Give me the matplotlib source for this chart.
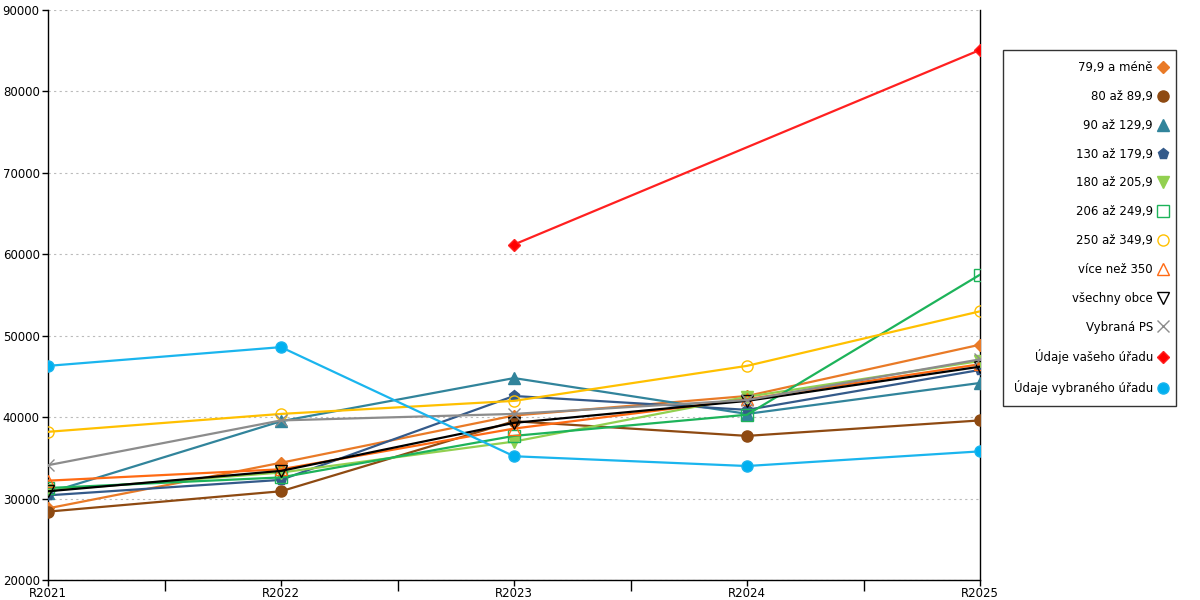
import matplotlib
matplotlib.use("Agg")
import matplotlib.pyplot as plt
import numpy as np
from matplotlib.lines import Line2D

# data
roky = ["R2021", "R2022", "R2023", "R2024", "R2025"]
nazvy = ["79,9 a méně", "80 až 89,9", "90 až 129,9", "130 až 179,9", "180 až 205,9",
         "206 až 249,9", "250 až 349,9", "více než 350", "všechny obce", "Vybraná PS",
         "Údaje vašeho úřadu", "Údaje vybraného úřadu"]
s_79 = [28800, 34400, 40200, 42600, 48900]
s_80 = [28400, 30900, 39500, 37700, 39600]
s_90 = [30700, 39500, 44800, 40400, 44200]
s_130 = [30400, 32300, 42600, 40900, 45800]
s_180 = [31000, 33200, 37000, 42500, 46900]
s_206 = [31300, 32600, 37700, 40300, 57500]
s_250 = [38200, 40400, 42000, 46300, 53000]
s_350 = [32200, 33600, 38600, 42200, 46500]
s_vse = [30900, 33400, 39300, 42000, 46200]
s_ps = [34100, 39600, 40400, 42100, 47100]
s_vas = [np.nan, np.nan, 61200, np.nan, 85100]
s_vyb = [46300, 48600, 35200, 34000, 35800]

serie = [s_79, s_80, s_90, s_130, s_180, s_206, s_250, s_350, s_vse, s_ps, s_vas, s_vyb]

# styl kazde rady: barva cary, marker, vypln markeru, velikost
styly = [
    ("#E97A27", "D", "#E97A27", 6),
    ("#8E4A12", "o", "#8E4A12", 8),
    ("#31849B", "^", "#31849B", 8),
    ("#345A8A", "p", "#345A8A", 8),
    ("#92D050", "v", "#92D050", 8),
    ("#1DB35A", "s", "none", 8),
    ("#FFC000", "o", "none", 8),
    ("#FF6A13", "^", "none", 8),
    ("#000000", "v", "none", 8),
    ("#8C8C8C", "x", "none", 9),
    ("#FF2020", "D", "#FF0000", 6),
    ("#1AB5EE", "o", "#00B0F0", 8),
]

plt.rcParams['font.family'] = ['DejaVu Sans']

fig = plt.figure(figsize=(12, 6), dpi=100)
ax = fig.add_axes([0.04, 0.0333, 0.7767, 0.95])

x = np.arange(len(roky))
handles = []
for nazev, data, (barva, mk, fc, ms) in zip(nazvy, serie, styly):
    y = np.array(data, dtype=float)
    m = ~np.isnan(y)  # spojit jen platne body
    ax.plot(x[m], y[m], color=barva, lw=1.6, marker=mk, markersize=ms,
            markerfacecolor=fc, markeredgecolor=barva,
            markeredgewidth=1.0, zorder=3)
    handles.append(Line2D([], [], linestyle="none", marker=mk, markersize=ms,
                          color=barva, markerfacecolor=fc, markeredgewidth=1.0,
                          label=nazev))

# osy
ax.set_xlim(0, 4)
ax.set_ylim(20000, 90000)
ax.set_yticks(np.arange(20000, 90001, 10000))
ax.set_xticks(x)
ax.set_xticklabels(roky)
ax.set_xticks(np.arange(0.5, 4, 1), minor=True)
ax.tick_params(axis="x", which="major", length=4, width=1, direction="out", pad=1, labelsize=8.5)
ax.tick_params(axis="x", which="minor", length=8, width=1, direction="out")
ax.tick_params(axis="y", length=4, width=1, labelsize=8.5, pad=2)
ax.spines["top"].set_visible(False)
for s in ["left", "right", "bottom"]:
    ax.spines[s].set_color("black")
    ax.spines[s].set_linewidth(1)
ax.grid(axis="y", color="#BBBBBB", linestyle=(0, (2, 3)), linewidth=0.8)
ax.set_axisbelow(True)

# legenda vpravo
leg = fig.legend(handles=handles, loc="upper right", bbox_to_anchor=(1176 / 1200, 0.9167),
                 markerfirst=False, frameon=True, fancybox=False, fontsize=8.5,
                 labelspacing=1.34, handlelength=0.3, handletextpad=0.7,
                 borderpad=0.95, borderaxespad=0)
leg.get_frame().set_edgecolor("black")
leg.get_frame().set_linewidth(1)

fig.savefig("out.png", dpi=100)
